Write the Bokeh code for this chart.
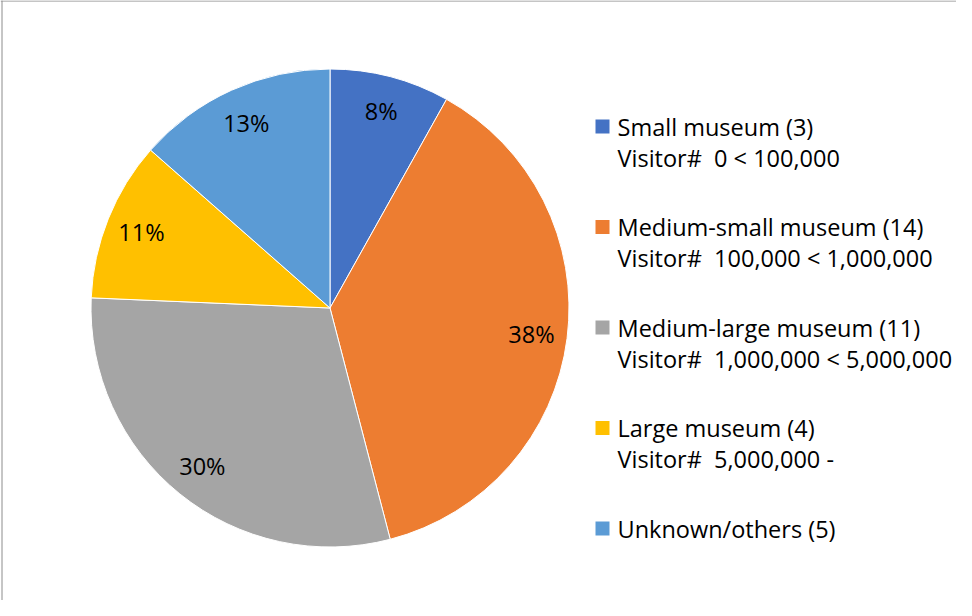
import math
from bokeh.plotting import figure
from bokeh.models import Range1d, Span, ColumnDataSource
from bokeh.core.properties import value
from bokeh.embed import file_html
from bokeh.resources import INLINE

# ---- data ----
categories = ["Small museum (3)", "Medium-small museum (14)", "Medium-large museum (11)",
              "Large museum (4)", "Unknown/others (5)"]
visitor_ranges = ["Visitor#  0 < 100,000", "Visitor#  100,000 < 1,000,000",
                  "Visitor#  1,000,000 < 5,000,000", "Visitor#  5,000,000 -", ""]
counts = [3, 14, 11, 4, 5]
pct_labels = ["8%", "38%", "30%", "11%", "13%"]
colors = ["#4472C4", "#ED7D31", "#A5A5A5", "#FFC000", "#5B9BD5"]

# ---- layout constants (pixels) ----
W, H = 956, 600
CX, CY = 329.5, 307.5          # pie centre relative to the figure's top-left
R = 239
FONT = "Open Sans"
FS = "23.5px"

total = sum(counts)
fracs = [c / total for c in counts]
starts, ends, mids = [], [], []
cum = 0.0
for f in fracs:
    a0 = math.pi / 2 - 2 * math.pi * cum
    a1 = math.pi / 2 - 2 * math.pi * (cum + f)
    starts.append(a0)
    ends.append(a1)
    mids.append((a0 + a1) / 2)
    cum += f

lr = 0.85 * R
lx = [lr * math.cos(m) for m in mids]
ly = [lr * math.sin(m) for m in mids]

p = figure(width=W, height=H, output_backend="svg", toolbar_location=None,
           x_range=Range1d(-CX, W - CX), y_range=Range1d(CY - H, CY),
           x_axis_location=None, y_axis_location=None, min_border=0,
           outline_line_color=None, background_fill_color="white",
           border_fill_color="white")
p.xgrid.visible = False
p.ygrid.visible = False

src = ColumnDataSource(dict(start=starts, end=ends, color=colors))
p.wedge(x=0, y=0, radius=R, start_angle="start", end_angle="end", direction="clock",
        fill_color="color", line_color="white", line_width=1, source=src)

p.text(x=lx, y=ly, text=pct_labels, text_align="center", text_baseline="middle",
       text_font=value(FONT), text_font_size=FS, text_color="#000000")

# legend (manual)
LX0 = 610 - 337.5          # square centre x relative to pie centre
TX0 = 625 - 337.5
LY0 = 315.5 - 134
STEP = 100.5
LINE = 31
sq_y = [LY0 - i * STEP for i in range(len(categories))]
p.rect(x=[LX0] * len(categories), y=sq_y, width=14, height=14,
       fill_color=colors, line_color=None)
p.text(x=[TX0] * len(categories), y=sq_y, text=categories, text_align="left",
       text_baseline="middle", text_font=value(FONT), text_font_size=FS, text_color="#000000")
vy = [y - LINE for y, t in zip(sq_y, visitor_ranges) if t]
vt = [t.replace("  ", "\u00a0 ") for t in visitor_ranges if t]
p.text(x=[TX0] * len(vt), y=vy, text=vt, text_align="left",
       text_baseline="middle", text_font=value(FONT), text_font_size=FS, text_color="#000000")

# chart-area border (top and left visible)
p.add_layout(Span(location=CY - 0.5, dimension="width", line_color="#8C8C8C", line_width=1))
p.add_layout(Span(location=-CX + 1.5, dimension="height", line_color="#8C8C8C", line_width=1))

open("out.html", "w").write(file_html(p, INLINE))
